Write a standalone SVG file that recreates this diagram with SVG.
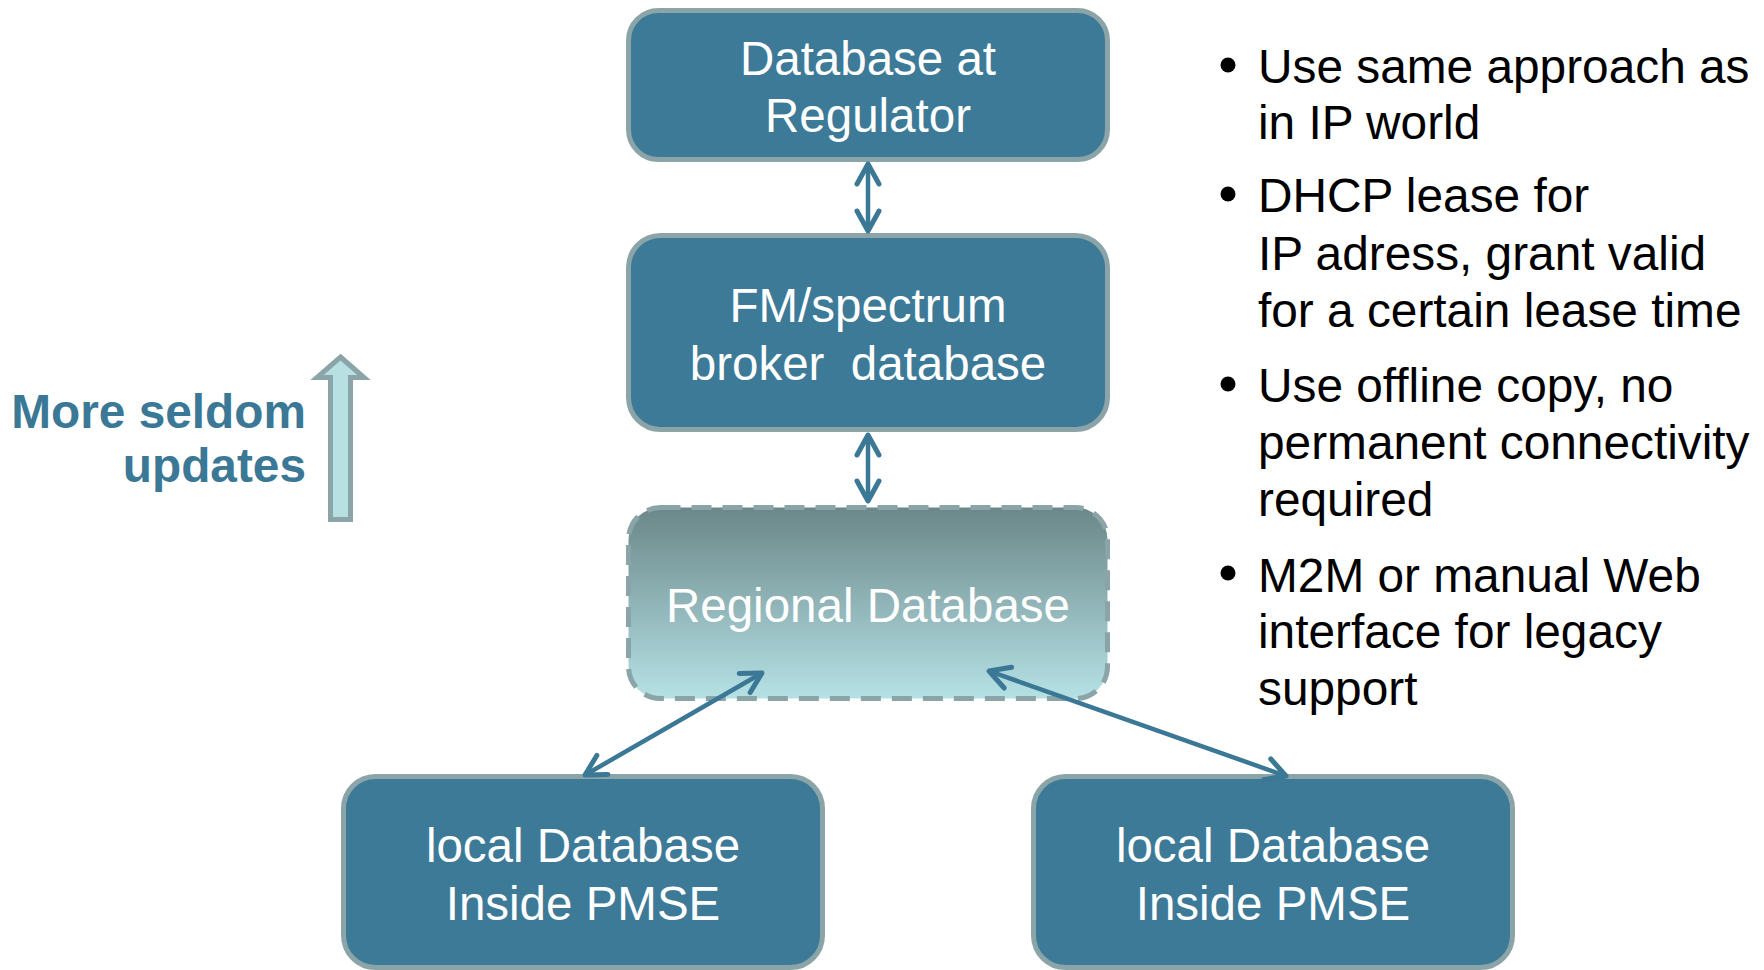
<svg xmlns="http://www.w3.org/2000/svg" width="1764" height="970" viewBox="0 0 1764 970">
  <style>
    .box { fill: #3c7a98; stroke: #8aa4a7; stroke-width: 5; }
    .regional { fill: url(#regionalFill); stroke: #8aa4a7; stroke-width: 5; stroke-dasharray: 20 11; }
    .label { font-family: "Liberation Sans", Arial, sans-serif; font-size: 47.5px; fill: #ffffff; text-anchor: middle; }
    .bullet { font-family: "Liberation Sans", Arial, sans-serif; font-size: 47.8px; fill: #000000; }
    .side { font-family: "Liberation Sans", Arial, sans-serif; font-size: 47.8px; font-weight: bold; fill: #3b7896; text-anchor: end; }
    .link { fill: none; stroke: #3b7896; stroke-width: 4.5; marker-start: url(#chev); marker-end: url(#chev); }
  </style>
  <defs>
    <linearGradient id="regionalFill" x1="0" y1="0" x2="0" y2="1">
      <stop offset="0" stop-color="#6b8789"/>
      <stop offset="1" stop-color="#b5e1e5"/>
    </linearGradient>
    <marker id="chev" markerUnits="userSpaceOnUse" markerWidth="40" markerHeight="40" viewBox="-30 -20 40 40" refX="0" refY="0" orient="auto-start-reverse">
      <path d="M-20,-11 L0,0 L-20,11" fill="none" stroke="#3b7896" stroke-width="5" stroke-linecap="round" stroke-linejoin="round"/>
    </marker>
  </defs>

  <rect width="1764" height="970" fill="#ffffff"/>

  <g id="regulator">
    <rect class="box" x="628.5" y="10.5" width="479" height="149" rx="30"/>
    <text class="label" x="868" y="75">Database at</text>
    <text class="label" x="868" y="132">Regulator</text>
  </g>

  <g id="broker">
    <rect class="box" x="628.5" y="235.5" width="479" height="194" rx="32"/>
    <text class="label" x="868" y="322">FM/spectrum</text>
    <text class="label" x="868" y="380" xml:space="preserve">broker  database</text>
  </g>

  <g id="regional">
    <rect class="regional" x="628.5" y="507.5" width="479" height="191" rx="32"/>
    <text class="label" x="868" y="622">Regional Database</text>
  </g>

  <g id="local-left">
    <rect class="box" x="343.5" y="776.5" width="479" height="191" rx="32"/>
    <text class="label" x="583" y="862">local Database</text>
    <text class="label" x="583" y="920">Inside PMSE</text>
  </g>

  <g id="local-right">
    <rect class="box" x="1033.5" y="776.5" width="479" height="191" rx="32"/>
    <text class="label" x="1273" y="862">local Database</text>
    <text class="label" x="1273" y="920">Inside PMSE</text>
  </g>

  <!-- connectors, drawn over the boxes -->
  <g id="connectors">
    <line class="link" x1="868" y1="164" x2="868" y2="231"/>
    <line class="link" x1="868" y1="435" x2="868" y2="501"/>
    <line class="link" x1="762" y1="673" x2="585" y2="775"/>
    <line class="link" x1="989" y1="671" x2="1286" y2="776"/>
  </g>

  <!-- update frequency indicator -->
  <g id="update-frequency">
    <text class="side" x="306" y="428">More seldom</text>
    <text class="side" x="306" y="482">updates</text>
    <polygon points="340.5,357 364,377.5 350.5,377.5 350.5,519.5 330.5,519.5 330.5,377.5 317,377.5" fill="#b8e0e3" stroke="#8aa4a7" stroke-width="5" stroke-linejoin="miter"/>
  </g>

  <!-- notes -->
  <g id="notes">
    <circle cx="1228" cy="65" r="7.5" fill="#000"/>
    <text class="bullet" x="1258" y="83">Use same approach as</text>
    <text class="bullet" x="1258" y="139">in IP world</text>

    <circle cx="1228" cy="194" r="7.5" fill="#000"/>
    <text class="bullet" x="1258" y="212">DHCP lease for</text>
    <text class="bullet" x="1258" y="270">IP adress, grant valid</text>
    <text class="bullet" x="1258" y="327">for a certain lease time</text>

    <circle cx="1228" cy="384" r="7.5" fill="#000"/>
    <text class="bullet" x="1258" y="402">Use offline copy, no</text>
    <text class="bullet" x="1258" y="459">permanent connectivity</text>
    <text class="bullet" x="1258" y="516">required</text>

    <circle cx="1228" cy="573" r="7.5" fill="#000"/>
    <text class="bullet" x="1258" y="592">M2M or manual Web</text>
    <text class="bullet" x="1258" y="648">interface for legacy</text>
    <text class="bullet" x="1258" y="705">support</text>
  </g>
</svg>
